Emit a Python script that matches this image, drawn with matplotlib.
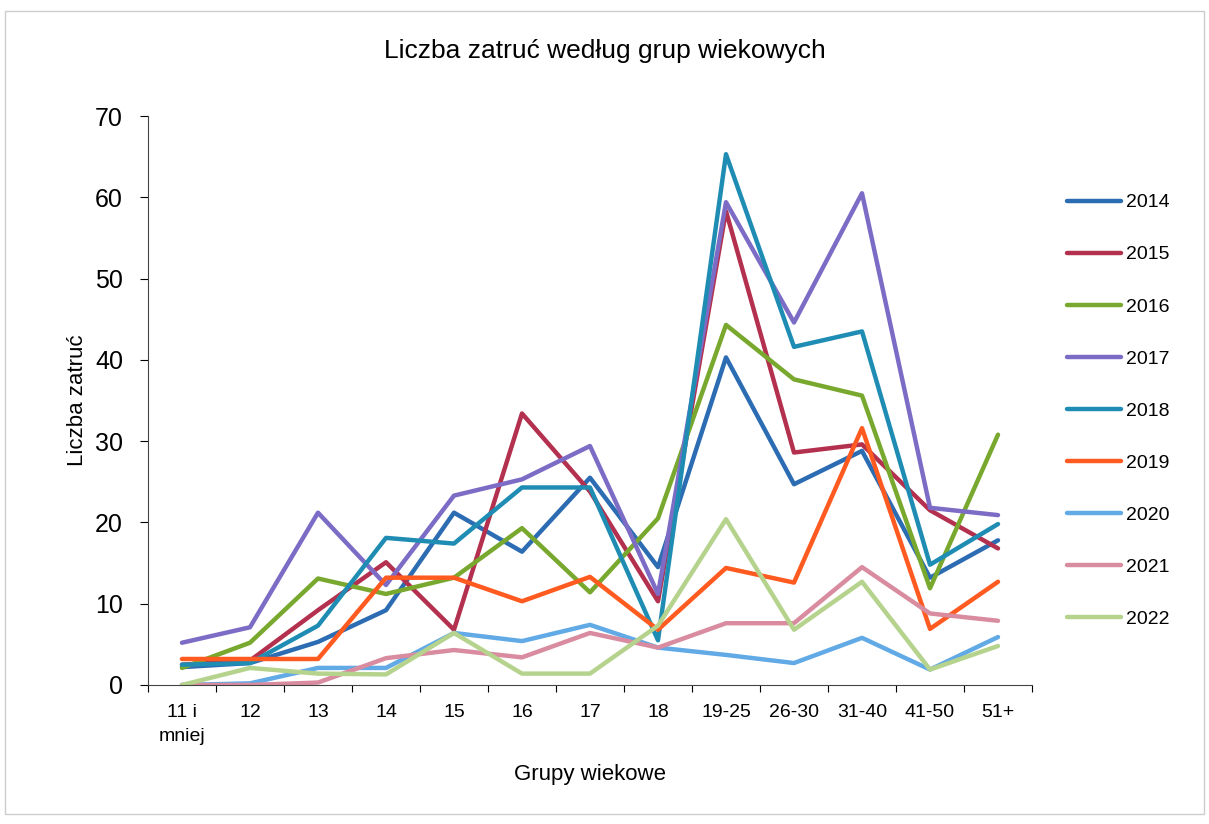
import numpy as np
import matplotlib.pyplot as plt
from matplotlib.patches import Rectangle

plt.rcParams['font.family'] = ['Liberation Sans', 'DejaVu Sans']

# Age groups and yearly values
groups = ['11 i\nmniej', '12', '13', '14', '15', '16', '17', '18',
          '19-25', '26-30', '31-40', '41-50', '51+']
years = ['2014', '2015', '2016', '2017', '2018', '2019', '2020', '2021', '2022']

v2014 = [2.2, 2.7, 5.3, 9.2, 21.2, 16.4, 25.5, 14.5, 40.3, 24.7, 28.8, 13.2, 17.8]
v2015 = [2.5, 3.0, 9.2, 15.1, 6.8, 33.4, 23.8, 10.3, 58.3, 28.6, 29.6, 21.5, 16.8]
v2016 = [2.1, 5.2, 13.1, 11.2, 13.2, 19.3, 11.4, 20.5, 44.3, 37.6, 35.6, 11.9, 30.8]
v2017 = [5.2, 7.1, 21.2, 12.3, 23.3, 25.3, 29.4, 11.2, 59.4, 44.6, 60.5, 21.8, 20.9]
v2018 = [2.5, 2.7, 7.3, 18.1, 17.4, 24.3, 24.3, 5.5, 65.3, 41.6, 43.5, 14.8, 19.8]
v2019 = [3.2, 3.2, 3.2, 13.2, 13.2, 10.3, 13.3, 6.8, 14.4, 12.6, 31.6, 6.9, 12.7]
v2020 = [0.0, 0.2, 2.1, 2.1, 6.4, 5.4, 7.4, 4.6, 3.7, 2.7, 5.8, 1.9, 5.9]
v2021 = [0.0, 0.0, 0.3, 3.3, 4.3, 3.4, 6.4, 4.6, 7.6, 7.6, 14.5, 8.8, 7.9]
v2022 = [0.0, 2.1, 1.4, 1.3, 6.4, 1.4, 1.4, 7.3, 20.4, 6.8, 12.7, 1.9, 4.8]

series = [v2014, v2015, v2016, v2017, v2018, v2019, v2020, v2021, v2022]
colors = ['#2b6cb3', '#b3304e', '#79a82f', '#7d6cc6', '#1f8db3',
          '#ff5a1f', '#62aae6', '#d98c9f', '#b5d38c']

fig = plt.figure(figsize=(12.09, 8.24), dpi=100)
ax = fig.add_axes([0.1224, 0.1687, 0.7312, 0.6905])

x = np.arange(len(groups))
for vals, c, lab in zip(series, colors, years):
    ax.plot(x, vals, color=c, lw=3.2, label=lab, solid_joinstyle='round',
            solid_capstyle='round')

ax.set_xlim(-0.5, len(groups) - 0.5)
ax.set_ylim(0, 70)
ax.set_yticks(range(0, 71, 10))
ax.set_xticks(np.arange(-0.5, len(groups), 1))
ax.set_xticklabels([])
ax.set_xticks(x, minor=True)
ax.set_xticklabels(groups, minor=True, fontsize=14, linespacing=1.5)
ax.tick_params(axis='x', which='minor', length=0, pad=14)
ax.tick_params(axis='x', which='major', length=5, direction='out')
ax.tick_params(axis='y', labelsize=18, length=6, direction='out', pad=12)
for lbl in ax.get_xticklabels(minor=True):
    lbl.set_verticalalignment('top')
    lbl.set_multialignment('center')

for s in ['top', 'right']:
    ax.spines[s].set_visible(False)
ax.spines['left'].set_color('#444444')
ax.spines['bottom'].set_color('#444444')

ax.set_xlabel('Grupy wiekowe', fontsize=16, labelpad=14)
ax.set_ylabel('Liczba zatruć', fontsize=16, labelpad=5)
fig.text(0.5, 0.938, 'Liczba zatruć według grup wiekowych', ha='center',
         va='center', fontsize=19)

fig.legend(loc='upper left', bbox_to_anchor=(0.868, 0.786), frameon=False,
           fontsize=14, labelspacing=1.77, handlelength=2.8, handletextpad=0.25)

fig.add_artist(Rectangle((0.004, 0.012), 0.992, 0.975, transform=fig.transFigure,
                         fill=False, edgecolor='#cccccc', lw=1))

fig.savefig('out.png', dpi=100)
